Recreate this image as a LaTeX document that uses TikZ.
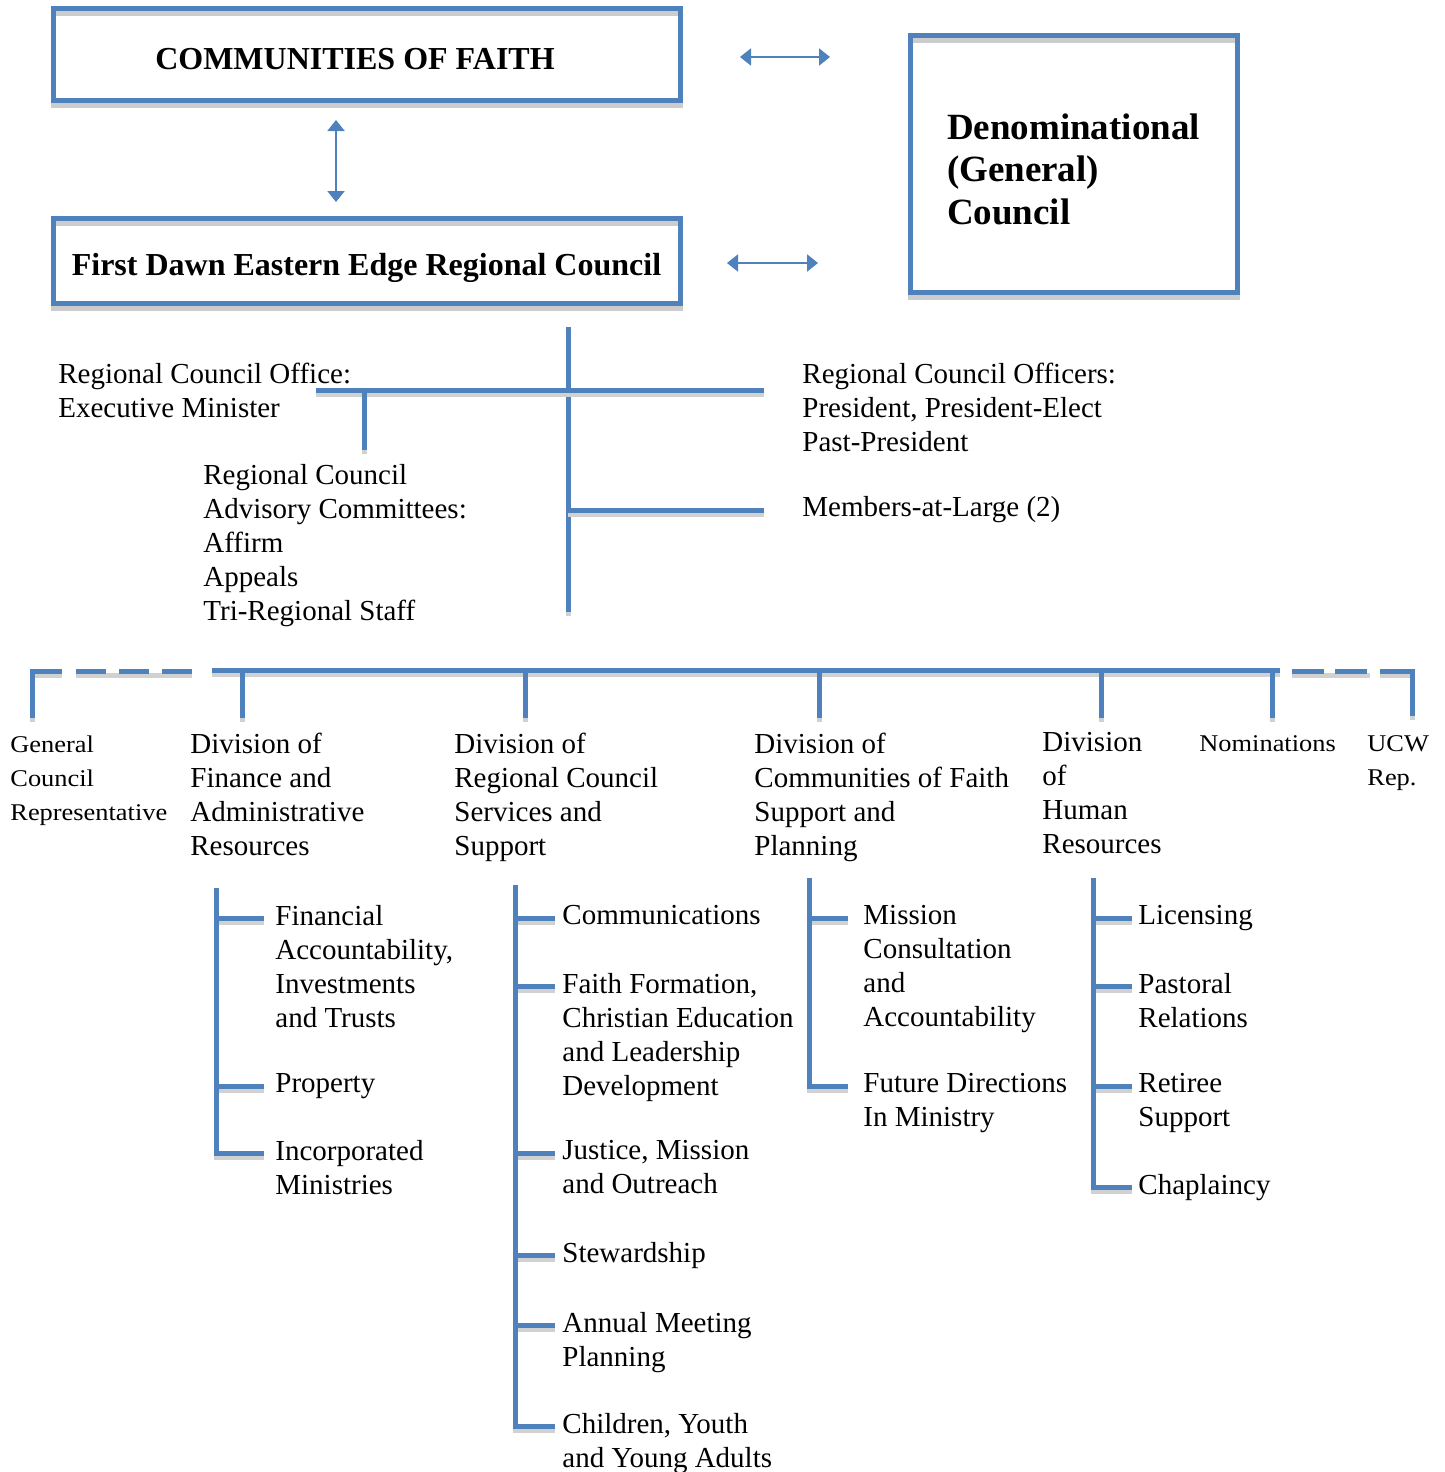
\documentclass[tikz,border=0pt]{standalone}
\usepackage{fontspec}
\setmainfont{Liberation Serif}
\newfontfamily\widefont[FakeStretch=1.1]{Liberation Serif}
\usepackage{xcolor}
\definecolor{orgblue}{HTML}{4F81BD}
\usetikzlibrary{arrows.meta,positioning}
\tikzset{
  rbox/.style={draw=orgblue, line width=2.5pt, inner sep=0pt,
               font=\fontsize{16}{19}\selectfont\bfseries, text depth=0pt,
               preaction={draw=black!20, line width=2.5pt, transform canvas={yshift=-2.5pt}}},
  rtxt/.style={font=\fontsize{14.5}{17}\selectfont, align=left, inner sep=0pt,
               anchor=north west, yshift=9.9pt},
  rsmall/.style={font=\widefont\fontsize{12}{17}\selectfont, align=left, inner sep=0pt,
                 anchor=north west, yshift=8.2pt},
  rline/.style={draw=orgblue, line width=2.5pt,
                preaction={draw=black!18, line width=2.5pt, transform canvas={yshift=-2pt}}},
  rarr/.style={{Triangle[length=5.5pt,width=8.5pt]}-{Triangle[length=5.5pt,width=8.5pt]},
               draw=orgblue, line width=1pt},
}
\begin{document}
\begin{tikzpicture}[x=0.5pt, y=-0.5pt]
  \useasboundingbox (0,0) rectangle (1445,1472);
  % top boxes
  \node[rbox, minimum width=313.5pt, minimum height=46pt, text height=15pt] (cof) at (366.5,54) {COMMUNITIES OF FAITH\kern11.5pt};
  \node[rbox, minimum width=313.5pt, minimum height=42.5pt, text height=14.5pt] (fdee) at (366.5,260.5) {First Dawn Eastern Edge Regional Council};
  \node[rbox, minimum width=163.5pt, minimum height=128.5pt, align=left, text width=126.5pt,
        text height=20pt, text depth=44.5pt, font=\fontsize{18.5}{21.25}\selectfont\bfseries] (dgc) at (1073.5,163.5) {Denominational\\(General)\\Council};
  \draw[rarr, shorten <=8.75pt, shorten >=6.75pt] (cof.south -| 336,0) -- (fdee.north -| 336,0);
  \draw[rarr, shorten <=28.75pt, shorten >=38.75pt] ([yshift=-1.5pt]cof.east) -- ([yshift=-1.5pt]cof.east -| dgc.west);
  \draw[rarr, shorten <=22.25pt, shorten >=44.75pt] ([yshift=-1.25pt]fdee.east) -- ([yshift=-1.25pt]fdee.east -| dgc.west);

  % regional council office and officers
  \node[rtxt] (office) at (58,382) {Regional Council Office:\\Executive Minister};
  \node[rtxt] (officers) at (802,382) {Regional Council Officers:\\President, President-Elect\\Past-President};
  \node[rtxt] (members) at (802,516) {Members-at-Large (2)};
  \node[rtxt] (advisory) at (203,484) {Regional Council\\Advisory Committees:\\Affirm\\Appeals\\Tri-Regional Staff};
  \coordinate (trunk-top) at (568,327);
  \coordinate (trunk-bot) at (568,612);
  \coordinate (bar-l) at (316,390);
  \coordinate (mem-l) at (568,510);
  \coordinate (adv-top) at (364,450);
  \draw[rline] (trunk-top) -- (trunk-bot);
  \draw[rline, shorten >=19pt] (bar-l) -- (bar-l -| officers.west);
  \draw[rline, shorten >=19pt] (mem-l) -- (mem-l -| members.west);
  \draw[rline] (adv-top |- bar-l) -- (adv-top);

  % divisions
  \node[rsmall] (gcr) at (10,752) {General\\Council\\Representative};
  \node[rtxt] (dfin) at (190,752) {Division of\\Finance and\\Administrative\\Resources};
  \node[rtxt] (dsvc) at (454,752) {Division of\\Regional Council\\Services and\\Support};
  \node[rtxt] (dcfs) at (754,752) {Division of\\Communities of Faith\\Support and\\Planning};
  \node[rtxt] (dhum) at (1042,752) {Division\\of\\Human\\Resources};
  \node[rsmall] (nom) at (1199,752) {Nominations};
  \node[rsmall] (ucw) at (1367,752) {UCW\\Rep.};
  \coordinate (bus-l) at (212,670);
  \coordinate (bus-r) at (1280,670);
  \draw[rline] (bus-l) -- (bus-r);
  \foreach \n/\x in {fin/242, svc/525, cfs/819, hum/1101, nom/1272}{
    \coordinate (bus-\n) at (\x,670);
    \coordinate (end-\n) at (\x,718);
    \draw[rline] (bus-\n) -- (end-\n);
  }
  \coordinate (gcr-end) at (32,718);
  \coordinate (ucw-end) at (1412,716);
  \draw[rline] (gcr-end) |- (62,671);
  \draw[rline, dash pattern=on 15pt off 6.5pt] (192,671) -- (76,671);
  \draw[rline, dash pattern=on 16pt off 5.5pt] (1292,671) -- (1370,671);
  \draw[rline] (1380,671) -| (ucw-end);

  % finance and administrative resources
  \node[rtxt] (fa) at (275,925) {Financial\\Accountability,\\Investments\\and Trusts};
  \node[rtxt] (prop) at (275,1093) {Property};
  \node[rtxt] (inc) at (275,1160) {Incorporated\\Ministries};
  \coordinate (fin-top) at (216,888);
  \foreach \i in {fa,prop,inc}
    \draw[rline] ([xshift=-5.5pt,yshift=-6.5pt]\i.north west) -| (fin-top);

  % regional council services and support
  \node[rtxt] (comm) at (562,925) {Communications};
  \node[rtxt] (faith) at (562,993) {Faith Formation,\\Christian Education\\and Leadership\\Development};
  \node[rtxt] (just) at (562,1160) {Justice, Mission\\and Outreach};
  \node[rtxt] (stew) at (562,1262) {Stewardship};
  \node[rtxt] (annual) at (562,1332) {Annual Meeting\\Planning};
  \node[rtxt] (child) at (562,1433) {Children, Youth\\and Young Adults};
  \coordinate (svc-top) at (515,885);
  \foreach \i in {comm,faith,just,stew,annual,child}
    \draw[rline] ([xshift=-3.5pt,yshift=-6.5pt]\i.north west) -| (svc-top);

  % communities of faith support and planning
  \node[rtxt] (miss) at (863,925) {Mission\\Consultation\\and\\Accountability};
  \node[rtxt] (fut) at (863,1093) {Future Directions\\In Ministry};
  \coordinate (cfs-top) at (809,878);
  \foreach \i in {miss,fut}
    \draw[rline] ([xshift=-7.5pt,yshift=-6.5pt]\i.north west) -| (cfs-top);

  % human resources
  \node[rtxt] (lic) at (1138,925) {Licensing};
  \node[rtxt] (past) at (1138,993) {Pastoral\\Relations};
  \node[rtxt] (ret) at (1138,1093) {Retiree\\Support};
  \node[rtxt] (chap) at (1138,1194) {Chaplaincy};
  \coordinate (hum-top) at (1093,878);
  \foreach \i in {lic,past,ret,chap}
    \draw[rline] ([xshift=-3pt,yshift=-6.5pt]\i.north west) -| (hum-top);
\end{tikzpicture}
\end{document}
